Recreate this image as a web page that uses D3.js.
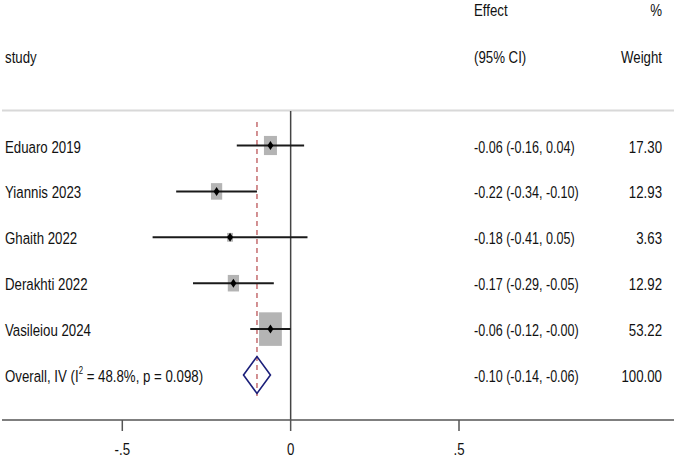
<!doctype html>
<html>
<head>
<meta charset="utf-8">
<script src="https://d3js.org/d3.v7.min.js"></script>
<style>
	body { margin: 0; background: #fff; }
	text { font-family: "Liberation Sans", Arial, sans-serif; font-size: 17px; fill: #111; }
</style>
</head>
<body>
<div id="forest"></div>
<script>

	// study rows (overall row is drawn separately)
	var studies = ["Eduaro 2019", "Yiannis 2023", "Ghaith 2022", "Derakhti 2022", "Vasileiou 2024"];
	var effect  = [-0.06, -0.22, -0.18, -0.17, -0.06];
	var lower   = [-0.16, -0.34, -0.41, -0.29, -0.12];
	var upper   = [ 0.04, -0.10,  0.05, -0.05, -0.00];
	var weight  = [17.30, 12.93, 3.63, 12.92, 53.22];

	var overall = {label: "Overall, IV", i2: "48.8%", p: "0.098", effect: -0.10, lower: -0.14, upper: -0.06, weight: 100.00};

	var xTicks = [-0.5, 0, 0.5];
	var tickLabels = ["-.5", "0", ".5"];

	var width = 676, height = 457;
	var sx = 0.78;   // the original picture is squeezed sideways
	var sxCI = 0.74; // the numbers column is a little tighter still
	var colCI = 474, colW = 662;

	var svg = d3.select("#forest").append("svg")
		.attr("width", width)
		.attr("height", height);

	var x = d3.scaleLinear()
		.domain([-0.5, 0.5])
		.range([122.3, 459]);

	var rows = studies.concat(["overall"]);
	var y = d3.scalePoint()
		.domain(rows)
		.range([145.5, 375]);

	function txt(xp, yp, s, anchor, k) {
		return svg.append("text")
			.attr("transform", "translate(" + xp + "," + yp + ") scale(" + (k || sx) + ",1)")
			.attr("text-anchor", anchor || "start")
			.text(s);
	}

	var fmt = d3.format(".2f");
	function num(v) { return (v < 0 || Object.is(v, -0) ? "-" : "") + fmt(Math.abs(v)); }

	// headers
	txt(5, 63, "study");
	txt(colCI, 16, "Effect");
	txt(colCI, 63, "(95% CI)");
	txt(colW, 16, "%", "end");
	txt(colW, 63, "Weight", "end");

	// light separator
	svg.append("line")
		.attr("x1", 2).attr("x2", 674)
		.attr("y1", 110.5).attr("y2", 110.5)
		.style("stroke", "#d8d8d8").style("stroke-width", 2);

	// no-effect line
	svg.append("line")
		.attr("x1", x(0)).attr("x2", x(0))
		.attr("y1", 111).attr("y2", 420)
		.style("stroke", "#444").style("stroke-width", 1.5);

	// overall effect, dashed
	svg.append("line")
		.attr("x1", x(overall.effect)).attr("x2", x(overall.effect))
		.attr("y1", 122).attr("y2", 396)
		.style("stroke", "#b5474a").style("stroke-width", 1.2)
		.style("stroke-dasharray", "5,4");

	var data = studies.map(function(s, i) {
		return {study: s, effect: effect[i], lower: lower[i], upper: upper[i], weight: weight[i]};
	});

	// weight boxes (area ~ weight)
	var bw = 3.125, bh = 4.6;
	svg.selectAll("rect.box")
		.data(data)
		.enter().append("rect")
		.attr("class", "box")
		.attr("x", d => x(d.effect) - bw * Math.sqrt(d.weight) / 2)
		.attr("y", d => y(d.study) - bh * Math.sqrt(d.weight) / 2)
		.attr("width", d => bw * Math.sqrt(d.weight))
		.attr("height", d => bh * Math.sqrt(d.weight))
		.style("fill", "#b4b4b4");

	// confidence intervals
	svg.selectAll("line.ci")
		.data(data)
		.enter().append("line")
		.attr("class", "ci")
		.attr("x1", d => x(d.lower)).attr("x2", d => x(d.upper))
		.attr("y1", d => y(d.study)).attr("y2", d => y(d.study))
		.style("stroke", "#1a1a1a").style("stroke-width", 2);

	// point estimates
	svg.selectAll("path.pt")
		.data(data)
		.enter().append("path")
		.attr("class", "pt")
		.attr("d", function(d) {
			var cx = x(d.effect), cy = y(d.study);
			return "M" + (cx - 3) + "," + cy + "L" + cx + "," + (cy - 4.5) + "L" + (cx + 3) + "," + cy + "L" + cx + "," + (cy + 4.5) + "Z";
		})
		.style("fill", "#000");

	// overall diamond
	var oy = y("overall");
	svg.append("path")
		.attr("d", "M" + x(overall.lower) + "," + oy +
			"L" + x(overall.effect) + "," + (oy - 18.5) +
			"L" + x(overall.upper) + "," + oy +
			"L" + x(overall.effect) + "," + (oy + 18.5) + "Z")
		.style("fill", "none").style("stroke", "#1b1f7a").style("stroke-width", 1.6);

	// row labels
	data.forEach(function(d) {
		txt(5, y(d.study) + 7, d.study);
		txt(colCI, y(d.study) + 7, num(d.effect) + " (" + num(d.lower) + ", " + num(d.upper) + ")", "start", sxCI);
		txt(colW, y(d.study) + 7, fmt(d.weight), "end");
	});

	var ot = txt(5, oy + 7, overall.label + " (I");
	ot.append("tspan").attr("dy", -8).style("font-size", "10px").text("2");
	ot.append("tspan").attr("dy", 8).text(" = " + overall.i2 + ", p = " + overall.p + ")");
	txt(colCI, oy + 7, num(overall.effect) + " (" + num(overall.lower) + ", " + num(overall.upper) + ")", "start", sxCI);
	txt(colW, oy + 7, fmt(overall.weight), "end");

	// x axis
	var axis = svg.append("g").attr("transform", "translate(0,420)");
	axis.append("line")
		.attr("x1", 2).attr("x2", 674)
		.style("stroke", "#555").style("stroke-width", 1.5);
	axis.selectAll("line.tick")
		.data(xTicks)
		.enter().append("line")
		.attr("class", "tick")
		.attr("x1", d => x(d)).attr("x2", d => x(d))
		.attr("y1", 0).attr("y2", 11)
		.style("stroke", "#555").style("stroke-width", 1.5);
	xTicks.forEach(function(t, i) {
		txt(x(t), 455, tickLabels[i], "middle");
	});

</script>
</body>
</html>
